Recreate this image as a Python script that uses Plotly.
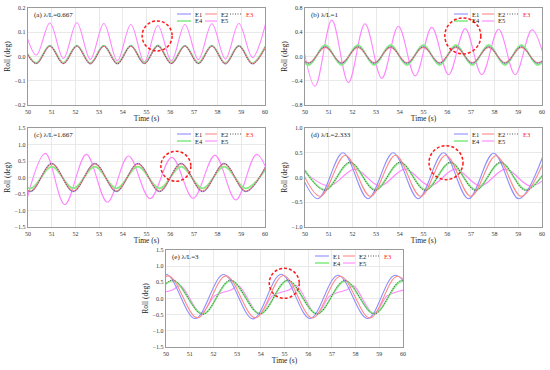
import plotly.graph_objects as go

# ---------------- data ----------------
series_names = ["E1", "E2", "E3", "E4", "E5"]
panel_labels = ["(a) λ/L=0.667", "(b) λ/L=1", "(c) λ/L=1.667", "(d) λ/L=2.333", "(e) λ/L=3"]
x_range = [50, 60]
y_ranges = [[-0.2, 0.2], [-0.8, 0.8], [-1.5, 1.5], [-1.0, 1.0], [-1.5, 1.5]]
y_dticks = [0.1, 0.4, 0.5, 0.5, 0.5]

# (a) lambda/L = 0.667 : extrema times and values
t_a = [49.78, 50.35, 50.92, 51.49, 52.06, 52.63, 53.20, 53.77, 54.34, 54.91, 55.48,
       56.05, 56.62, 57.19, 57.76, 58.33, 58.90, 59.47, 60.04]
a_E1 = [0.043, -0.030, 0.043, -0.030, 0.043, -0.031, 0.043, -0.031, 0.043, -0.030, 0.044,
        -0.030, 0.043, -0.030, 0.043, -0.031, 0.043, -0.031, 0.043]
a_E2 = [0.042, -0.029, 0.042, -0.029, 0.042, -0.029, 0.042, -0.029, 0.042, -0.029, 0.043,
        -0.029, 0.042, -0.029, 0.042, -0.029, 0.042, -0.029, 0.042]
a_E3 = [0.043, -0.029, 0.043, -0.029, 0.043, -0.030, 0.043, -0.030, 0.043, -0.029, 0.043,
        -0.029, 0.043, -0.029, 0.043, -0.030, 0.043, -0.030, 0.043]
a_E4 = [0.045, -0.026, 0.045, -0.026, 0.045, -0.027, 0.045, -0.027, 0.045, -0.026, 0.046,
        -0.026, 0.045, -0.026, 0.045, -0.027, 0.045, -0.027, 0.045]
a_E5 = [0.135, 0.006, 0.138, -0.008, 0.139, -0.012, 0.136, -0.018, 0.132, -0.022, 0.128,
        -0.018, 0.132, -0.013, 0.135, -0.010, 0.136, -0.004, 0.140]

# (b) lambda/L = 1
t_b = [49.47, 50.16, 50.85, 51.54, 52.23, 52.92, 53.61, 54.30, 54.99, 55.68, 56.37,
       57.06, 57.75, 58.44, 59.13, 59.82, 60.51]
b_E1 = [0.16, -0.11, 0.16, -0.11, 0.16, -0.11, 0.16, -0.11, 0.16, -0.11, 0.16,
        -0.11, 0.16, -0.11, 0.16, -0.11, 0.16]
b_E2 = [0.15, -0.10, 0.15, -0.10, 0.15, -0.10, 0.15, -0.10, 0.15, -0.10, 0.15,
        -0.10, 0.15, -0.10, 0.15, -0.10, 0.15]
b_E3 = [0.16, -0.11, 0.16, -0.11, 0.16, -0.11, 0.16, -0.11, 0.16, -0.11, 0.16,
        -0.11, 0.16, -0.11, 0.16, -0.11, 0.16]
b_E4 = [0.19, -0.14, 0.19, -0.14, 0.19, -0.14, 0.19, -0.14, 0.19, -0.14, 0.19,
        -0.14, 0.19, -0.14, 0.19, -0.14, 0.19]
t_b5 = [49.72, 50.42, 51.13, 51.83, 52.53, 53.24, 53.94, 54.65, 55.35, 56.06, 56.76,
        57.46, 58.17, 58.87, 59.58, 60.28]
b_E5 = [0.62, -0.49, 0.60, -0.43, 0.54, -0.36, 0.50, -0.32, 0.48, -0.30, 0.46,
        -0.30, 0.45, -0.30, 0.44, -0.30]

# (c) lambda/L = 1.667
t_c = [49.19, 50.10, 51.00, 51.91, 52.82, 53.73, 54.64, 55.55, 56.46, 57.37, 58.28, 59.19, 60.10]
c_E1 = [0.43, -0.43, 0.43, -0.43, 0.43, -0.43, 0.43, -0.43, 0.43, -0.43, 0.43, -0.43, 0.43]
c_E2 = [0.41, -0.41, 0.41, -0.41, 0.41, -0.41, 0.41, -0.41, 0.41, -0.41, 0.41, -0.41, 0.41]
c_E3 = [0.42, -0.42, 0.42, -0.42, 0.42, -0.42, 0.42, -0.42, 0.42, -0.42, 0.42, -0.42, 0.42]
c_E4 = [0.33, -0.33, 0.33, -0.33, 0.33, -0.33, 0.33, -0.33, 0.33, -0.33, 0.33, -0.33, 0.33]
t_c5 = [49.90, 50.73, 51.55, 52.46, 53.35, 54.24, 55.15, 56.07, 56.97, 57.89, 58.77, 59.65, 60.50]
c_E5 = [-0.80, 0.73, -0.82, 0.70, -0.75, 0.65, -0.64, 0.61, -0.63, 0.67, -0.68, 0.70, -0.70]

# (d) lambda/L = 2.333
t_d1 = [49.48, 50.54, 51.60, 52.66, 53.72, 54.78, 55.84, 56.90, 57.96, 59.02, 60.08]
d_E1 = [0.50, -0.43, 0.50, -0.43, 0.50, -0.43, 0.50, -0.43, 0.49, -0.43, 0.48]
t_d2 = [49.58, 50.64, 51.70, 52.76, 53.82, 54.88, 55.94, 57.00, 58.06, 59.12, 60.18]
d_E2 = [0.45, -0.38, 0.45, -0.38, 0.45, -0.38, 0.45, -0.38, 0.44, -0.38, 0.44]
t_d4 = [49.78, 50.84, 51.90, 52.96, 54.02, 55.08, 56.14, 57.20, 58.26, 59.32, 60.38]
d_E3 = [0.31, -0.26, 0.31, -0.26, 0.31, -0.26, 0.31, -0.26, 0.31, -0.26, 0.31]
d_E4 = [0.30, -0.25, 0.30, -0.25, 0.30, -0.25, 0.30, -0.25, 0.30, -0.25, 0.30]
t_d5 = [49.90, 51.02, 52.10, 53.16, 54.22, 55.28, 56.34, 57.40, 58.46, 59.52, 60.58]
d_E5 = [0.15, -0.17, 0.17, -0.17, 0.17, -0.17, 0.17, -0.17, 0.17, -0.17, 0.17]

# (e) lambda/L = 3
t_e1 = [48.76, 49.99, 51.23, 52.43, 53.67, 54.86, 56.08, 57.26, 58.51, 59.67, 60.90]
e_E1 = [-0.62, 0.75, -0.62, 0.74, -0.63, 0.75, -0.62, 0.72, -0.62, 0.72, -0.62]
t_e2 = [48.86, 50.09, 51.33, 52.53, 53.77, 54.96, 56.18, 57.36, 58.61, 59.77, 61.00]
e_E2 = [-0.60, 0.70, -0.60, 0.70, -0.60, 0.71, -0.60, 0.69, -0.60, 0.69, -0.60]
t_e4 = [49.10, 50.28, 51.55, 52.72, 53.97, 55.13, 56.38, 57.55, 58.79, 59.96, 61.20]
e_E3 = [-0.49, 0.57, -0.49, 0.57, -0.48, 0.57, -0.48, 0.56, -0.48, 0.56, -0.48]
e_E4 = [-0.48, 0.55, -0.48, 0.55, -0.47, 0.55, -0.47, 0.54, -0.47, 0.54, -0.47]
t_e5 = [49.60, 50.00, 50.30, 50.60, 51.48, 52.05, 52.45, 52.75, 53.05, 53.92, 54.49, 54.89,
        55.19, 55.49, 56.34, 56.91, 57.31, 57.61, 57.91, 58.76, 59.33, 59.73, 60.03, 60.33]
e_E5 = [0.10, 0.21, 0.27, 0.40, -0.45, 0.08, 0.20, 0.26, 0.40, -0.46, 0.08, 0.20,
        0.26, 0.40, -0.48, 0.08, 0.20, 0.26, 0.39, -0.46, 0.08, 0.20, 0.27, 0.40]

panel_series = [
    [(t_a, a_E1), (t_a, a_E2), (t_a, a_E3), (t_a, a_E4), (t_a, a_E5)],
    [(t_b, b_E1), (t_b, b_E2), (t_b, b_E3), (t_b, b_E4), (t_b5, b_E5)],
    [(t_c, c_E1), (t_c, c_E2), (t_c, c_E3), (t_c, c_E4), (t_c5, c_E5)],
    [(t_d1, d_E1), (t_d2, d_E2), (t_d4, d_E3), (t_d4, d_E4), (t_d5, d_E5)],
    [(t_e1, e_E1), (t_e2, e_E2), (t_e4, e_E3), (t_e4, e_E4), (t_e5, e_E5)],
]

# highlight circle centres (data units) per panel
circle_centres = [(55.45, 0.085), (56.66, 0.34), (56.24, 0.34), (55.95, 0.30), (54.99, 0.47)]

# ---------------- layout / style ----------------
W, H = 550, 370
FONT = "Liberation Serif, Times New Roman, serif"
# pixel boxes: x0, x1, ytop, ybottom
boxes = [(28, 265, 8, 105), (305, 542, 8, 105), (28, 265, 128, 227),
         (305, 542, 128, 227), (166, 403, 250, 347)]
circle_r_px = [15, 18, 15, 17, 15]
styles = [
    dict(color="#8f8fff", width=1.1, dash="solid"),
    dict(color="#ff8a8a", width=1.1, dash="solid"),
    dict(color="#555555", width=1.0, dash="1px,1.5px"),
    dict(color="#86ec86", width=1.8, dash="solid"),
    dict(color="#ff85ff", width=1.1, dash="solid"),
]

fig = go.Figure()
layout = dict(width=W, height=H, margin=dict(l=0, r=0, t=0, b=0, pad=0, autoexpand=False),
              paper_bgcolor="white", plot_bgcolor="white", showlegend=False,
              font=dict(family=FONT, color="#222"))
shapes = []
annotations = []

for i, (box, series) in enumerate(zip(boxes, panel_series)):
    n = "" if i == 0 else str(i + 1)
    x0, x1, yt, yb = box
    xd = [x0 / W, x1 / W]
    yd = [1 - yb / H, 1 - yt / H]
    axis_common = dict(showgrid=True, gridcolor="#e4e4e4", gridwidth=0.8, automargin=False,
                       showline=True, linecolor="#9a9a9a", linewidth=1.3, mirror=True,
                       zeroline=False, ticks="", ticklabeloverflow="allow",
                       tickfont=dict(family=FONT, size=6, color="#333"))
    layout["xaxis" + n] = dict(domain=xd, range=[x_range[0] - 0.002, x_range[1] + 0.002],
                               tickvals=list(range(x_range[0], x_range[1] + 1)),
                               anchor="y" + n, title=dict(text="Time (s)", standoff=1,
                                                          font=dict(family=FONT, size=7.5, color="#222")),
                               ticklabelstandoff=0, **axis_common)
    layout["yaxis" + n] = dict(domain=yd, range=y_ranges[i], dtick=y_dticks[i], tickformat=".1f",
                               anchor="x" + n, title=dict(text="Roll (deg)", standoff=3,
                                                          font=dict(family=FONT, size=7.5, color="#222")),
                               **axis_common)
    order = [4, 3, 0, 1, 2]
    for k in order:
        tx, ty = series[k]
        st = styles[k]
        fig.add_trace(go.Scatter(x=tx, y=ty, mode="lines", name=series_names[k],
                                 line=dict(color=st["color"], width=st["width"], dash=st["dash"],
                                           shape="spline", smoothing=1.0),
                                 xaxis="x" + n, yaxis="y" + n, hoverinfo="skip"))
    # panel label
    annotations.append(dict(text=panel_labels[i], xref="paper", yref="paper",
                            x=(x0 + 4) / W, y=1 - (yt + 7) / H, xanchor="left", yanchor="middle",
                            showarrow=False, font=dict(family=FONT, size=7, color="#222")))
    # custom legend (3 columns x 2 rows)
    leg_cols = [(-88, -74), (-60, -48), (-35, -23)]
    leg_rows = [6, 13]
    slots = [(0, 0), (0, 1), (0, 2), (1, 0), (1, 1)]
    for k, (r, c) in enumerate(slots):
        lx0, lx1 = leg_cols[c]
        py = yt + leg_rows[r]
        st = styles[k]
        shapes.append(dict(type="line", xref="paper", yref="paper",
                           x0=(x1 + lx0) / W, x1=(x1 + lx1) / W, y0=1 - py / H, y1=1 - py / H,
                           line=dict(color=st["color"], width=1.1 if k != 3 else 1.6, dash=st["dash"])))
        annotations.append(dict(text=series_names[k], xref="paper", yref="paper",
                                x=(x1 + lx1 + 2) / W, y=1 - py / H, xanchor="left", yanchor="middle",
                                showarrow=False,
                                font=dict(family=FONT, size=6.5, color="#ff2020" if k == 2 else "#222")))
    # red dashed circle
    cx, cy = circle_centres[i]
    rpx = circle_r_px[i]
    xs = (x1 - x0) / (x_range[1] - x_range[0])
    ys = (yb - yt) / (y_ranges[i][1] - y_ranges[i][0])
    shapes.append(dict(type="circle", xref="x" + n, yref="y" + n,
                       x0=cx - rpx / xs, x1=cx + rpx / xs, y0=cy - rpx / ys, y1=cy + rpx / ys,
                       line=dict(color="#ff1a1a", width=1.5, dash="3px,2px")))

layout["shapes"] = shapes
layout["annotations"] = annotations
fig.update_layout(**layout)
fig.write_html("out.html", config={"displayModeBar": False, "staticPlot": True},
               post_script="document.body.style.margin='0';document.body.style.overflow='hidden';")
